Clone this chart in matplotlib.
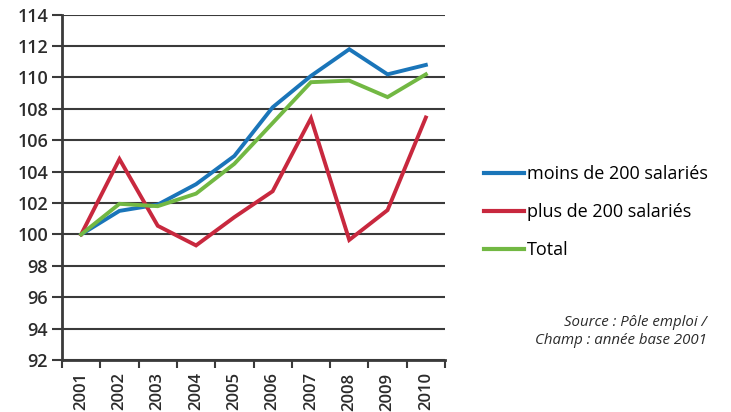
import matplotlib
matplotlib.use("Agg")
import matplotlib.pyplot as plt
from matplotlib.lines import Line2D

years = ["2001", "2002", "2003", "2004", "2005", "2006", "2007", "2008", "2009", "2010"]
moins_200 = [100, 101.5, 101.9, 103.2, 105.0, 108.1, 110.1, 111.8, 110.2, 110.8]
plus_200 = [100, 104.8, 100.55, 99.3, 101.1, 102.75, 107.4, 99.65, 101.55, 107.45]
total = [100, 101.95, 101.8, 102.6, 104.5, 107.1, 109.7, 109.8, 108.75, 110.2]
series_labels = ["moins de 200 salariés", "plus de 200 salariés", "Total"]
yticks = [92, 94, 96, 98, 100, 102, 104, 106, 108, 110, 112, 114]

colors = ["#1a75b9", "#c8283e", "#72b843"]
txt = "#2b2b2b"
font = ["Open Sans", "DejaVu Sans"]
plt.rcParams['font.family'] = font

W, H = 731, 412
fig = plt.figure(figsize=(W / 100, H / 100), dpi=100)
ax = fig.add_axes([62 / W, 1 - 360 / H, (445 - 62) / W, (360 - 14.7) / H])

x = list(range(len(years)))
for vals, c, lab in zip([moins_200, plus_200, total], colors, series_labels):
    ax.plot(x, vals, color=c, lw=2.8, label=lab, solid_joinstyle="miter", zorder=3)

ax.set_xlim(-0.5, len(years) - 0.5)
ax.set_ylim(92, 114)
ax.set_yticks(yticks)
ax.set_yticklabels([str(v) for v in yticks], fontsize=13, fontweight="semibold", color=txt)
ax.yaxis.grid(True, color="#3a3a3a", lw=1.5, zorder=1)
ax.set_axisbelow(True)
ax.tick_params(axis="y", length=7, width=1.5, color="#3a3a3a", pad=3)

ax.set_xticks(x)
ax.set_xticklabels(years, rotation=90, fontsize=12, fontweight="semibold", color=txt)
ax.set_xticks([i - 0.5 for i in range(len(years) + 1)], minor=True)
ax.tick_params(axis="x", which="major", length=0, pad=9)
ax.tick_params(axis="x", which="minor", length=6, width=1.5, color="#3a3a3a")

for s in ["top", "right"]:
    ax.spines[s].set_visible(False)
for s in ["left", "bottom"]:
    ax.spines[s].set_color("#3a3a3a")
    ax.spines[s].set_linewidth(2)

handles = [Line2D([0], [0], color=c, lw=3) for c in colors]
fig.legend(handles, series_labels, loc="upper left",
           bbox_to_anchor=(468 / W, 1 - 149 / H), frameon=False,
           handlelength=2.2, handletextpad=0.15,
           labelspacing=1.1, prop={"family": font, "size": 13.0})

fig.text(707 / W, 1 - 323 / H, "Source : Pôle emploi /", ha="right", va="center",
         fontsize=10.8, style="italic", color=txt)
fig.text(707 / W, 1 - 341 / H, "Champ : année base 2001", ha="right", va="center",
         fontsize=10.8, style="italic", color=txt)

fig.savefig("out.png", dpi=100)
